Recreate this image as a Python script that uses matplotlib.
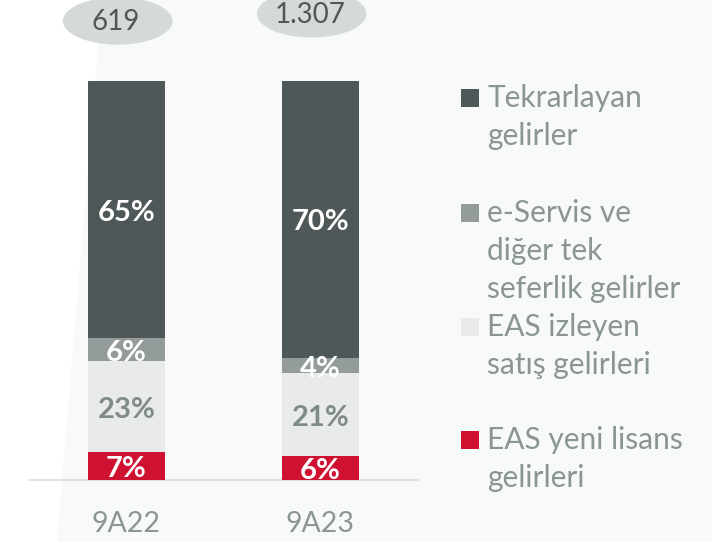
"""Gelir dağılımı 9A22 / 9A23"""

import matplotlib
matplotlib.use("Agg")
import matplotlib.pyplot as plt
from matplotlib.patches import Ellipse, Polygon, Rectangle

plt.rcParams['font.family'] = ['Lato', 'DejaVu Sans']

kategoriler = ['9A22', '9A23']
toplamlar = ['619', '1.307']

eas_yeni = [7, 6]
eas_izleyen = [23, 21]
e_servis = [6, 4]
tekrarlayan = [65, 70]

seriler = [
    ('EAS yeni lisans\ngelirleri', eas_yeni, '#cf1231', 'white'),
    ('EAS izleyen\nsatış gelirleri', eas_izleyen, '#e8ebea', '#7f8b89'),
    ('e-Servis ve\ndiğer tek\nseferlik gelirler', e_servis, '#939c9a', 'white'),
    ('Tekrarlayan\ngelirler', tekrarlayan, '#4f5859', 'white'),
]

W, H = 712, 542
fig = plt.figure(figsize=(W / 100, H / 100), dpi=100, facecolor='white')

# arka plan (eğik kenarlı açık gri alan)
fig.patches.append(Polygon([(101.5 / W, 1), (1, 1), (1, 0), (57 / W, 0)],
                           closed=True, transform=fig.transFigure,
                           facecolor='#f8f9f9', edgecolor='none', zorder=-10))

ax = fig.add_axes([30 / W, (H - 480) / H, 388 / W, 399 / H])
ax.set_facecolor('none')
ax.set_zorder(5)

x = range(len(kategoriler))
alt = [0] * len(kategoriler)
for ad, degerler, renk, yazi_renk in seriler:
    ax.bar(x, degerler, bottom=alt, width=0.397, color=renk, zorder=2)
    for i, v in enumerate(degerler):
        ax.text(i, alt[i] + v / 2 - 0.8, f'{v}%', ha='center', va='center',
                fontsize=21, fontweight='bold', color=yazi_renk, zorder=3)
    alt = [a + v for a, v in zip(alt, degerler)]

ax.set_xlim(-0.497, 1.503)
ax.set_ylim(0, max(alt))
ax.axhline(0, color='#dde2e1', lw=1.5, zorder=1, clip_on=False)
for s in ax.spines.values():
    s.set_visible(False)
ax.set_yticks([])
ax.set_xticks(list(x))
ax.set_xticklabels(kategoriler, fontsize=20.5, color='#8a9694')
ax.tick_params(axis='x', length=0, pad=22)

# toplam değerler (elips içinde)
elips_y = [116.2, 118.0]
for i, t in enumerate(toplamlar):
    cx = i - 0.045
    ax.add_patch(Ellipse((cx, elips_y[i]), 0.565, 12.0, facecolor='#d5dad9',
                         edgecolor='none', clip_on=False, zorder=2))
    ax.text(cx - 0.01, elips_y[i] - 0.3, t, ha='center', va='center',
            fontsize=20, color='#4f5859', clip_on=False, zorder=3)

# açıklama (legend)
satir_y = [98, 213, 327, 440]
for (ad, _, renk, _), y0 in zip(reversed(seriler), satir_y):
    fig.patches.append(Rectangle((461 / W, (H - y0 - 9) / H), 18 / W, 18 / H,
                                 transform=fig.transFigure, facecolor=renk,
                                 edgecolor='none'))
    for k, satir in enumerate(ad.split('\n')):
        fig.text(487 / W, (H - y0 - 38 * k) / H, satir, ha='left', va='center',
                 fontsize=21.5, color='#8a9694')

plt.savefig('out.png', dpi=100, facecolor='white')
